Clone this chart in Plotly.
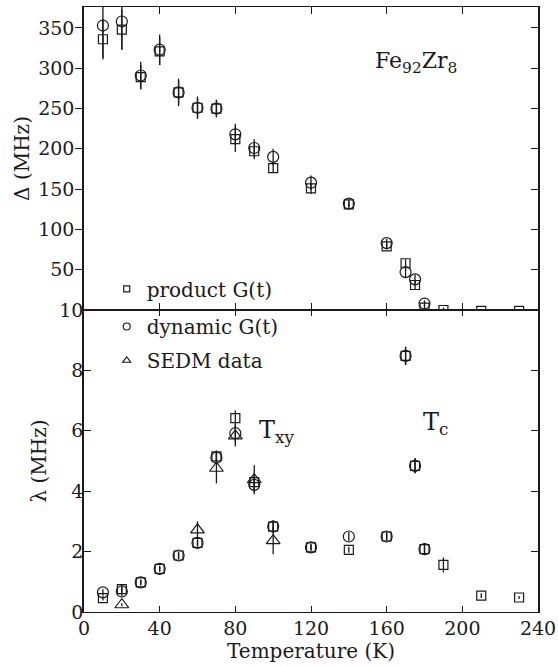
import plotly.graph_objects as go

# ---------------- data ----------------
temps_product = [10, 20, 30, 40, 50, 60, 70, 80, 90, 100, 120, 140, 160, 170, 175, 180, 190, 210, 230]
delta_product = [336, 348, 289, 321, 270, 251, 250, 212, 197, 176, 151, 131, 79, 58, 31, 3, 0, -1, -1]
delta_product_err = [25, 25, 15, 17, 15, 12, 10, 16, 10, 6, 7, 4, 4, 5, 5, 3, 3, 2, 2]
lambda_product = [0.46, 0.76, 0.98, 1.43, 1.87, 2.29, 5.15, 6.42, 4.30, 2.83, 2.14, 2.06, 2.50, 8.48, 4.84, 2.08, 1.56, 0.54, 0.48]
lambda_product_err = [0.08, 0.12, 0.08, 0.08, 0.1, 0.1, 0.2, 0.25, 0.3, 0.2, 0.1, 0.1, 0.12, 0.3, 0.25, 0.18, 0.25, 0.08, 0.05]

temps_dynamic = [10, 20, 30, 40, 50, 60, 70, 80, 90, 100, 120, 140, 160, 170, 175, 180]
delta_dynamic = [353, 358, 291, 323, 270, 251, 250, 218, 201, 190, 158, 132, 83, 47, 38, 8]
delta_dynamic_err = [40, 35, 17, 19, 17, 14, 11, 13, 11, 10, 9, 5, 5, 6, 6, 4]
lambda_dynamic = [0.65, 0.68, 0.98, 1.43, 1.87, 2.29, 5.11, 5.92, 4.21, 2.83, 2.14, 2.50, 2.50, 8.48, 4.84, 2.08]
lambda_dynamic_err = [0.1, 0.15, 0.1, 0.1, 0.12, 0.12, 0.2, 0.3, 0.25, 0.2, 0.1, 0.15, 0.15, 0.3, 0.25, 0.2]

temps_sedm = [20, 60, 70, 80, 90, 100]
lambda_sedm = [0.24, 2.72, 4.76, 5.83, 4.38, 2.36]
lambda_sedm_err = [0.05, 0.28, 0.5, 0.35, 0.48, 0.45]

x_ticks = [0, 40, 80, 120, 160, 200, 240]
delta_ticks = [50, 100, 150, 200, 250, 300, 350]
lambda_ticks = [0, 2, 4, 6, 8, 10]

legend_names = ["product G(t)", "dynamic G(t)", "SEDM data"]

# ---------------- style ----------------
INK = "#1a1a1a"
FONT = "DejaVu Serif"


def err(vals):
    return dict(type="data", array=vals, visible=True, color=INK, thickness=1.3, width=0)


fig = go.Figure()

# top panel
fig.add_trace(go.Scatter(x=temps_product, y=delta_product, mode="markers", xaxis="x2", yaxis="y3",
                         marker=dict(symbol="square-open", size=9, color=INK, line=dict(width=1.2)),
                         error_y=err(delta_product_err), showlegend=False, hoverinfo="skip"))
fig.add_trace(go.Scatter(x=temps_dynamic, y=delta_dynamic, mode="markers", xaxis="x2", yaxis="y",
                         marker=dict(symbol="circle-open", size=11, color=INK, line=dict(width=1.2)),
                         error_y=err(delta_dynamic_err), showlegend=False, hoverinfo="skip"))

# bottom panel
fig.add_trace(go.Scatter(x=temps_product, y=lambda_product, mode="markers", xaxis="x", yaxis="y2",
                         marker=dict(symbol="square-open", size=9, color=INK, line=dict(width=1.2)),
                         error_y=err(lambda_product_err), showlegend=False, hoverinfo="skip"))
fig.add_trace(go.Scatter(x=temps_dynamic, y=lambda_dynamic, mode="markers", xaxis="x", yaxis="y2",
                         marker=dict(symbol="circle-open", size=11, color=INK, line=dict(width=1.2)),
                         error_y=err(lambda_dynamic_err), showlegend=False, hoverinfo="skip"))
fig.add_trace(go.Scatter(x=temps_sedm, y=lambda_sedm, mode="markers", xaxis="x", yaxis="y2",
                         marker=dict(symbol="triangle-up-open", size=12, color=INK, line=dict(width=1.2)),
                         error_y=err(lambda_sedm_err), showlegend=False, hoverinfo="skip"))

# legend entries (small symbols, no error bars)
fig.add_trace(go.Scatter(x=[None], y=[None], mode="markers", name=legend_names[0], legend="legend",
                         marker=dict(symbol="square-open", size=6, color=INK, line=dict(width=1.2)),
                         xaxis="x", yaxis="y2"))
fig.add_trace(go.Scatter(x=[None], y=[None], mode="markers", name=legend_names[1], legend="legend2",
                         legendgroup="g1",
                         marker=dict(symbol="circle-open", size=7, color=INK, line=dict(width=1.2)),
                         xaxis="x", yaxis="y2"))
fig.add_trace(go.Scatter(x=[None], y=[None], mode="markers", name=legend_names[2], legend="legend2",
                         legendgroup="g2",
                         marker=dict(symbol="triangle-up-open", size=7, color=INK, line=dict(width=1.2)),
                         xaxis="x", yaxis="y2"))

axis_common = dict(showline=True, linecolor=INK, showgrid=False, zeroline=False, automargin=False,
                   tickcolor=INK, tickwidth=1.3, tickfont=dict(family=FONT, size=19, color=INK))

SPLIT = 0.4992

fig.update_layout(
    width=558, height=666,
    margin=dict(l=84, r=20, t=7, b=54, autoexpand=False),
    paper_bgcolor="white", plot_bgcolor="white",
    font=dict(family=FONT, color=INK, size=19),
    xaxis=dict(domain=[0, 1], anchor="y2", range=[0, 240], tickvals=x_ticks, ticks="inside", ticklen=6,
               mirror="ticks", linewidth=1.4, ticklabelstandoff=-1,
               title=dict(text="Temperature (K)", font=dict(family=FONT, size=20, color=INK), standoff=2),
               **axis_common),
    xaxis2=dict(domain=[0, 1], anchor="y", matches="x", range=[0, 240], tickvals=x_ticks, ticks="inside",
                ticklen=7, mirror="ticks", showticklabels=False, linewidth=1.4, **axis_common),
    yaxis=dict(domain=[SPLIT, 1], anchor="x2", range=[0, 376], tickvals=delta_ticks, ticks="outside",
               ticklen=7, mirror=True, linewidth=1.6, ticklabelstandoff=-3,
               title=dict(text="Δ (MHz)", font=dict(family=FONT, size=20, color=INK), standoff=3),
               **axis_common),
    yaxis3=dict(overlaying="y", anchor="x2", side="right", range=[0, 376], tickvals=delta_ticks,
                ticks="inside", ticklen=7, showticklabels=False, showline=False, showgrid=False,
                zeroline=False, automargin=False, tickcolor=INK, tickwidth=1.3),
    yaxis2=dict(domain=[0, SPLIT], anchor="x", range=[0, 10], tickvals=lambda_ticks, ticks="inside",
                ticklen=7, mirror="ticks", linewidth=1.6, ticklabelstandoff=-5,
                title=dict(text="λ (MHz)", font=dict(family=FONT, size=20, color=INK), standoff=7),
                **axis_common),
    legend=dict(x=0.05, xanchor="left", y=0.534, yanchor="middle", bgcolor="rgba(0,0,0,0)",
                borderwidth=0, font=dict(family=FONT, size=20, color=INK)),
    legend2=dict(x=0.05, xanchor="left", y=0.4438, yanchor="middle", bgcolor="rgba(0,0,0,0)",
                 borderwidth=0, tracegroupgap=5, traceorder="grouped",
                 font=dict(family=FONT, size=20, color=INK)),
    annotations=[
        dict(text="Fe<sub>92</sub>Zr<sub>8</sub>", x=175.5, y=307, xref="x2", yref="y", showarrow=False,
             font=dict(family=FONT, size=22, color=INK)),
        dict(text="T<sub>xy</sub>", x=102, y=5.96, xref="x", yref="y2", showarrow=False,
             font=dict(family=FONT, size=24, color=INK)),
        dict(text="T<sub>c</sub>", x=186, y=6.23, xref="x", yref="y2", showarrow=False,
             font=dict(family=FONT, size=24, color=INK)),
    ],
)

fig.write_html("out.html", config={"displayModeBar": False},
               post_script="document.body.style.margin='0';document.body.style.padding='0';")
